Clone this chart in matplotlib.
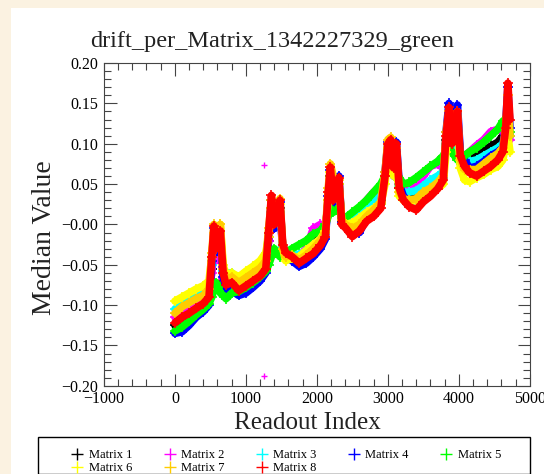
import numpy as np
import matplotlib.pyplot as plt
from matplotlib.lines import Line2D
from matplotlib.patches import Rectangle

plt.rcParams['font.family'] = ['Liberation Serif', 'DejaVu Serif']
plt.rcParams['axes.unicode_minus'] = True

# readout index grid shared by all matrices
readout = [0, 100, 200, 300, 400, 480, 520, 550, 580, 610, 640, 680, 720,
           800, 900, 1000, 1100, 1200, 1280, 1320, 1360, 1400, 1440, 1480, 1520, 1560,
           1650, 1750, 1850, 1950, 2050, 2120, 2160, 2190, 2230, 2270, 2310, 2350,
           2400, 2500, 2600, 2700, 2800, 2900, 2960, 3000, 3040, 3080, 3120, 3160,
           3220, 3300, 3400, 3500, 3600, 3700, 3780, 3820, 3860, 3900, 3940, 3980, 4020,
           4080, 4150, 4250, 4350, 4450, 4550, 4620, 4660, 4690, 4720]

matrix1 = [-0.125, -0.120, -0.113, -0.106, -0.100, -0.094, -0.055, -0.020, -0.040, -0.035, -0.020, -0.070, -0.078,
           -0.076, -0.082, -0.078, -0.072, -0.065, -0.056, -0.020, 0.020, -0.005, 0.000, 0.020, -0.030, -0.040,
           -0.042, -0.047, -0.040, -0.030, -0.002, -0.005, 0.030, 0.060, 0.025, 0.030, 0.050, 0.004,
           0.002, 0.005, 0.010, 0.018, 0.025, 0.030, 0.060, 0.095, 0.095, 0.065, 0.090, 0.045,
           0.035, 0.035, 0.038, 0.045, 0.052, 0.058, 0.065, 0.105, 0.135, 0.100, 0.100, 0.130, 0.085,
           0.080, 0.082, 0.088, 0.092, 0.097, 0.102, 0.110, 0.118, 0.125, 0.110]
matrix2 = [-0.115, -0.108, -0.100, -0.094, -0.088, -0.082, -0.060, -0.030, -0.045, -0.040, -0.030, -0.068, -0.072,
           -0.070, -0.075, -0.070, -0.062, -0.055, -0.048, -0.020, 0.010, -0.005, 0.000, 0.010, -0.030, -0.035,
           -0.036, -0.040, -0.030, -0.005, 0.000, 0.000, 0.020, 0.040, 0.020, 0.025, 0.030, 0.005,
           0.005, 0.010, 0.018, 0.030, 0.040, 0.042, 0.060, 0.080, 0.080, 0.060, 0.075, 0.050,
           0.045, 0.045, 0.050, 0.060, 0.072, 0.075, 0.070, 0.095, 0.120, 0.100, 0.095, 0.115, 0.085,
           0.085, 0.090, 0.098, 0.105, 0.115, 0.118, 0.115, 0.115, 0.120, 0.105]
matrix3 = [-0.105, -0.098, -0.092, -0.088, -0.083, -0.077, -0.050, -0.015, -0.035, -0.020, -0.010, -0.058, -0.060,
           -0.060, -0.068, -0.065, -0.058, -0.052, -0.045, -0.010, 0.015, 0.010, 0.010, 0.015, -0.028, -0.035,
           -0.035, -0.038, -0.032, -0.025, -0.018, -0.008, 0.020, 0.050, 0.030, 0.030, 0.040, 0.005,
           0.005, 0.005, 0.012, 0.020, 0.028, 0.035, 0.060, 0.090, 0.090, 0.060, 0.085, 0.048,
           0.040, 0.040, 0.042, 0.048, 0.055, 0.060, 0.065, 0.100, 0.130, 0.100, 0.100, 0.125, 0.085,
           0.080, 0.078, 0.080, 0.085, 0.090, 0.095, 0.100, 0.115, 0.130, 0.110]
matrix4 = [-0.135, -0.133, -0.125, -0.115, -0.108, -0.100, -0.045, -0.005, -0.035, -0.030, -0.010, -0.065, -0.080,
           -0.082, -0.088, -0.085, -0.078, -0.070, -0.060, -0.015, 0.030, -0.005, 0.000, 0.028, -0.030, -0.040,
           -0.045, -0.052, -0.048, -0.040, -0.030, -0.018, 0.035, 0.068, 0.025, 0.030, 0.060, 0.002,
           -0.002, -0.010, -0.010, 0.008, 0.015, 0.025, 0.065, 0.102, 0.100, 0.065, 0.102, 0.050,
           0.035, 0.028, 0.030, 0.035, 0.042, 0.048, 0.058, 0.115, 0.150, 0.105, 0.110, 0.148, 0.090,
           0.080, 0.070, 0.072, 0.078, 0.085, 0.090, 0.095, 0.125, 0.170, 0.120]
matrix5 = [-0.132, -0.127, -0.120, -0.112, -0.105, -0.098, -0.090, -0.080, -0.072, -0.078, -0.085, -0.088, -0.092,
           -0.085, -0.083, -0.078, -0.072, -0.065, -0.058, -0.050, -0.040, -0.030, -0.035, -0.040, -0.038, -0.035,
           -0.030, -0.025, -0.020, -0.012, -0.008, 0.000, 0.010, 0.020, 0.015, 0.018, 0.020, 0.008,
           0.008, 0.015, 0.022, 0.030, 0.040, 0.050, 0.060, 0.070, 0.078, 0.070, 0.065, 0.058,
           0.050, 0.052, 0.058, 0.065, 0.072, 0.078, 0.085, 0.092, 0.095, 0.090, 0.085, 0.080, 0.078,
           0.085, 0.090, 0.095, 0.102, 0.110, 0.118, 0.128, 0.130, 0.125, 0.115]
matrix6 = [-0.095, -0.090, -0.085, -0.080, -0.076, -0.070, -0.040, -0.010, -0.030, -0.015, 0.000, -0.050, -0.062,
           -0.060, -0.065, -0.058, -0.052, -0.045, -0.035, -0.015, 0.020, 0.010, 0.015, 0.025, -0.030, -0.045,
           -0.042, -0.040, -0.032, -0.025, -0.018, -0.008, 0.030, 0.065, 0.040, 0.045, 0.050, 0.005,
           0.000, 0.002, 0.008, 0.015, 0.020, 0.025, 0.050, 0.095, 0.100, 0.060, 0.080, 0.035,
           0.030, 0.028, 0.030, 0.035, 0.040, 0.045, 0.050, 0.090, 0.130, 0.120, 0.110, 0.125, 0.070,
           0.055, 0.053, 0.058, 0.062, 0.068, 0.072, 0.080, 0.100, 0.110, 0.090]
matrix7 = [-0.110, -0.102, -0.097, -0.092, -0.088, -0.080, -0.035, 0.000, -0.020, -0.010, 0.000, -0.055, -0.068,
           -0.065, -0.072, -0.066, -0.060, -0.054, -0.045, -0.005, 0.030, 0.020, 0.025, 0.032, -0.030, -0.040,
           -0.038, -0.044, -0.038, -0.030, -0.020, -0.010, 0.045, 0.075, 0.060, 0.050, 0.055, 0.005,
           0.000, -0.005, 0.000, 0.010, 0.018, 0.028, 0.065, 0.105, 0.108, 0.085, 0.095, 0.040,
           0.032, 0.030, 0.032, 0.040, 0.045, 0.052, 0.060, 0.115, 0.140, 0.135, 0.120, 0.140, 0.080,
           0.068, 0.068, 0.068, 0.075, 0.082, 0.088, 0.095, 0.120, 0.160, 0.110]
matrix8 = [-0.122, -0.115, -0.110, -0.104, -0.098, -0.090, -0.040, -0.002, -0.030, -0.028, -0.008, -0.060, -0.075,
           -0.072, -0.082, -0.076, -0.070, -0.064, -0.055, -0.010, 0.036, 0.000, 0.004, 0.030, -0.025, -0.035,
           -0.040, -0.048, -0.042, -0.036, -0.026, -0.015, 0.040, 0.071, 0.030, 0.035, 0.058, 0.000,
           -0.004, -0.015, -0.008, 0.004, 0.010, 0.020, 0.060, 0.100, 0.105, 0.070, 0.100, 0.045,
           0.030, 0.022, 0.018, 0.028, 0.035, 0.044, 0.055, 0.110, 0.145, 0.100, 0.105, 0.140, 0.085,
           0.072, 0.064, 0.060, 0.066, 0.072, 0.080, 0.090, 0.120, 0.175, 0.130]

# two stray readouts of matrix 2
matrix2_stray_x = [1255, 1255]
matrix2_stray_y = [0.074, -0.188]

names = ["Matrix 1", "Matrix 2", "Matrix 3", "Matrix 4",
         "Matrix 5", "Matrix 6", "Matrix 7", "Matrix 8"]
colors = ["black", "#ff00ff", "#00ffff", "#0000ff",
          "#00ff00", "#ffff00", "#ffcc00", "#ff0000"]
series = [matrix1, matrix2, matrix3, matrix4, matrix5, matrix6, matrix7, matrix8]

fig = plt.figure(figsize=(5.44, 4.74), dpi=100, facecolor='#fbf2e1')
fig.patches.append(Rectangle((11 / 544, 0), 1, 1 - 8 / 474, transform=fig.transFigure,
                             facecolor='white', edgecolor='none', zorder=-10))

ax = fig.add_axes([0.191, 0.186, 0.783, 0.681])
ax.set_zorder(5)
ax.set_facecolor('white')

for vals, c in zip(series, colors):
    ax.plot(readout, vals, color=c, lw=5.5, marker='+', ms=6.5, mew=1.2,
            solid_joinstyle='round', solid_capstyle='round')
ax.plot(matrix2_stray_x, matrix2_stray_y, ls='none', marker='+', ms=5, mew=1,
        color='#ff00ff')

ax.set_xlim(-1000, 5000)
ax.set_ylim(-0.2, 0.2)
ax.set_xticks(np.arange(-1000, 5001, 1000))
ax.set_xticks(np.arange(-1000, 5001, 200), minor=True)
ax.set_yticks(np.arange(-0.2, 0.201, 0.05))
ax.set_yticks(np.arange(-0.2, 0.201, 0.01), minor=True)
ax.yaxis.set_major_formatter(plt.FuncFormatter(lambda v, p: f"{v:.2f}".replace('-', '\u2212')))
ax.xaxis.set_major_formatter(plt.FuncFormatter(lambda v, p: f"{v:.0f}".replace('-', '\u2212')))
ax.tick_params(which='both', direction='in', top=True, right=True, labelsize=11.5,
               color='#444444', width=0.8)
ax.tick_params(which='major', length=9)
ax.tick_params(which='minor', length=5)
ax.tick_params(axis='x', pad=4)
ax.tick_params(axis='y', pad=4)
for s in ax.spines.values():
    s.set_color('#444444')
    s.set_linewidth(0.8)

fig.text(0.5, 1 - 47 / 474, "drift_per_Matrix_1342227329_green", ha='center',
         va='baseline', fontsize=17.5, color='#222222')
fig.text(307 / 544, 1 - 423 / 474, "Readout Index", ha='center', va='center',
         fontsize=18, color='#222222')
fig.text(45 / 544, 1 - 238 / 474, "Median Value", ha='center', va='center',
         rotation=90, fontsize=20, color='#222222')

# legend frame and entries, filled column by column so rows read Matrix 1..5 / 6..8
fig.patches.append(Rectangle((38 / 544, 0.0), 492 / 544, 37 / 474, transform=fig.transFigure,
                             facecolor='white', edgecolor='black', lw=1, zorder=1))
handles = [Line2D([], [], ls='none', marker='+', ms=9, mew=1, color=c) for c in colors]
order = [0, 5, 1, 6, 2, 7, 3, 4]
fig.legend([handles[i] for i in order], [names[i] for i in order], ncol=5,
           loc='lower left', mode='expand',
           bbox_to_anchor=(68 / 544, -3 / 474, 436 / 544, 37 / 474), frameon=False,
           fontsize=9, handlelength=1.0, handletextpad=0.4, labelspacing=0.05,
           borderpad=0.25, borderaxespad=0)

plt.savefig("out.png", dpi=100)
